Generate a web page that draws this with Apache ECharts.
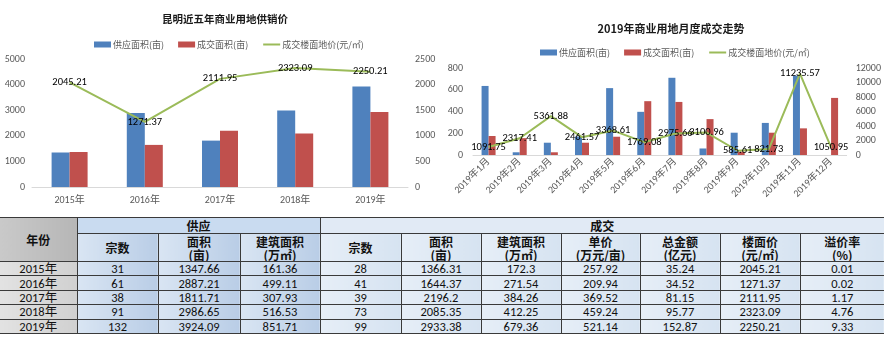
<!DOCTYPE html>
<html>
<head>
<meta charset="utf-8">
<script src="https://cdn.jsdelivr.net/npm/echarts@6/dist/echarts.min.js"></script>
<style>
  html, body { margin: 0; padding: 0; background: #fff; }
  #wrap { position: relative; width: 884px; height: 339px; overflow: hidden; }
  #chart { position: absolute; left: 0; top: 0; width: 884px; height: 216px; }
  #tbl {
    position: absolute; left: 0; top: 217px; width: 884px;
    border-collapse: collapse; table-layout: fixed;
    font-family: Carlito, "Liberation Sans", "Noto Sans CJK SC", sans-serif;
    color: #111; text-align: center;
  }
  #tbl td { padding: 0; border: 1px solid #3a3a3a; overflow: hidden; white-space: nowrap; }
  #tbl tr.h1 td { height: 15px; font-size: 12px; line-height: 15px; font-weight: bold; font-family: "Noto Sans CJK SC", sans-serif; }
  #tbl tr.h2 td { height: 27px; font-size: 12px; line-height: 13px; font-weight: bold; font-family: "Noto Sans CJK SC", sans-serif; }
  #tbl tr.d td { height: 13.4px; font-size: 12.5px; line-height: 13px; }
  #tbl td.yr { background: linear-gradient(to right, #e2e2e2, #d0d0d0); }
  #tbl td.yh { background: linear-gradient(to right, #c9c9c9, #b6b6b6); font-size: 13px; }
  #tbl td.sp { background: linear-gradient(to right, #d9e5f3, #b9cde6); }
  #tbl td.dl { background: linear-gradient(to right, #e6eef7, #d6e3f1); }
  #tbl td.sph { background: #c9dbf0; }
  #tbl td.dlh { background: #e1eaf5; }
  #tbl td:first-child { border-left: none; }
  #tbl td:last-child { border-right: none; }
</style>
</head>
<body>
<div id="wrap">
  <div id="chart"></div>
  <table id="tbl"></table>
</div>
<script>
// Five-year commercial land supply / transaction figures (Kunming)
const years = ['2015年', '2016年', '2017年', '2018年', '2019年'];
const supplyCount = [31, 61, 38, 91, 132];
const supplyArea = [1347.66, 2887.21, 1811.71, 2986.65, 3924.09];
const supplyBuild = [161.36, 499.11, 307.93, 516.53, 851.71];
const dealCount = [28, 41, 39, 73, 99];
const dealArea = [1366.31, 1644.37, 2196.2, 2085.35, 2933.38];
const dealBuild = [172.3, 271.54, 384.26, 412.25, 679.36];
const unitPrice = [257.92, 209.94, 369.52, 459.24, 521.14];
const totalAmount = [35.24, 34.52, 81.15, 95.77, 152.87];
const floorPrice = [2045.21, 1271.37, 2111.95, 2323.09, 2250.21];
const premiumRate = [0.01, 0.02, 1.17, 4.76, 9.33];

// 2019 monthly figures
const months = ['2019年1月', '2019年2月', '2019年3月', '2019年4月', '2019年5月', '2019年6月',
                '2019年7月', '2019年8月', '2019年9月', '2019年10月', '2019年11月', '2019年12月'];
const monthSupply = [635, 25, 113, 170, 615, 397, 710, 60, 205, 295, 730, 0];
const monthDeal = [175, 155, 25, 113, 168, 495, 488, 330, 30, 205, 245, 525];
const monthPrice = [1091.75, 2317.41, 5361.88, 2461.57, 3368.61, 1769.08,
                    2975.66, 3100.96, 585.61, 821.73, 11235.57, 1050.95];

// Axis ranges
const leftAxis = { min: 0, max: 5000, interval: 1000 };
const leftAxisR = { min: 0, max: 2500, interval: 500 };
const monthAxis = { min: 0, max: 800, interval: 200 };
const monthAxisR = { min: 0, max: 12000, interval: 2000 };

const NAME_SUPPLY = '供应面积(亩)';
const NAME_DEAL = '成交面积(亩)';
const NAME_PRICE = '成交楼面地价(元/㎡)';

const BLUE = '#4f81bd', RED = '#c0504d', GREEN = '#9bbb59';
const AXIS_TXT = { color: '#595959', fontSize: 10, fontFamily: 'Carlito, "Liberation Sans", "Noto Sans CJK SC", sans-serif' };
const LABEL_FONT = 'Carlito, "Liberation Sans", sans-serif';

function valueAxis(grid, range, pos, margin) {
  return {
    type: 'value', gridIndex: grid, position: pos,
    min: range.min, max: range.max, interval: range.interval,
    axisLine: { show: false }, axisTick: { show: false }, splitLine: { show: false },
    axisLabel: Object.assign({ margin: margin, formatter: v => String(v) }, AXIS_TXT)
  };
}

const legendBase = {
  itemWidth: 17, itemHeight: 6, itemGap: 14,
  textStyle: { color: '#595959', fontSize: 9, fontFamily: '"Noto Sans CJK SC", sans-serif', padding: [0, 0, 0, -3] },
  data: [
    { name: NAME_SUPPLY, icon: 'rect' },
    { name: NAME_DEAL, icon: 'rect' },
    { name: NAME_PRICE, itemStyle: { opacity: 0 } }
  ]
};

const chart = echarts.init(document.getElementById('chart'), null, { renderer: 'canvas' });
chart.setOption({
  animation: false,
  backgroundColor: 'transparent',
  title: [
    { text: '昆明近五年商业用地供销价', left: 220, top: 9, textAlign: 'center',
      textStyle: { fontSize: 10.5, fontWeight: 'bold', color: '#1a1a1a', fontFamily: '"Noto Sans CJK SC", sans-serif' } },
    { text: '2019年商业用地月度成交走势', left: 666, top: 18, textAlign: 'center',
      textStyle: { fontSize: 11, fontWeight: 'bold', color: '#1a1a1a', fontFamily: '"Noto Sans CJK SC", sans-serif' } }
  ],
  legend: [
    Object.assign({ left: 89, top: 35 }, legendBase),
    Object.assign({ left: 535, top: 43 }, legendBase)
  ],
  grid: [
    { left: 32, top: 59, width: 376, height: 128 },
    { left: 473, top: 68, width: 376, height: 87 }
  ],
  xAxis: [
    { type: 'category', gridIndex: 0, data: years,
      axisLine: { lineStyle: { color: '#d9d9d9' } }, axisTick: { show: false },
      axisLabel: Object.assign({ margin: 8 }, AXIS_TXT) },
    { type: 'category', gridIndex: 1, data: months,
      axisLine: { lineStyle: { color: '#d9d9d9' } }, axisTick: { show: false },
      axisLabel: Object.assign({ margin: 5, rotate: 45, interval: 0 }, AXIS_TXT) }
  ],
  yAxis: [
    valueAxis(0, leftAxis, 'left', 7),
    valueAxis(0, leftAxisR, 'right', 7),
    valueAxis(1, monthAxis, 'left', 10),
    valueAxis(1, monthAxisR, 'right', 9)
  ],
  series: [
    { name: NAME_SUPPLY, type: 'bar', xAxisIndex: 0, yAxisIndex: 0, data: supplyArea,
      barWidth: 18, barGap: '0%', itemStyle: { color: BLUE } },
    { name: NAME_DEAL, type: 'bar', xAxisIndex: 0, yAxisIndex: 0, data: dealArea,
      barWidth: 18, barGap: '0%', itemStyle: { color: RED } },
    { name: NAME_PRICE, type: 'line', xAxisIndex: 0, yAxisIndex: 1, data: floorPrice,
      symbol: 'circle', symbolSize: 0.1, lineStyle: { color: GREEN, width: 2 }, itemStyle: { color: GREEN },
      label: { show: true, position: 'inside', color: '#000', fontSize: 10.5, fontFamily: LABEL_FONT } },
    { name: NAME_SUPPLY, type: 'bar', xAxisIndex: 1, yAxisIndex: 2, data: monthSupply,
      barWidth: 7, barGap: '0%', itemStyle: { color: BLUE } },
    { name: NAME_DEAL, type: 'bar', xAxisIndex: 1, yAxisIndex: 2, data: monthDeal,
      barWidth: 7, barGap: '0%', itemStyle: { color: RED } },
    { name: NAME_PRICE, type: 'line', xAxisIndex: 1, yAxisIndex: 3, data: monthPrice,
      symbol: 'circle', symbolSize: 0.1, lineStyle: { color: GREEN, width: 2 }, itemStyle: { color: GREEN },
      label: { show: true, position: 'inside', color: '#000', fontSize: 10.5, fontFamily: LABEL_FONT } }
  ]
});

// Summary table below the charts
const colWidths = [77, 81, 82, 80, 81, 80, 80, 79, 80, 80, 84];
const tbl = document.getElementById('tbl');
let html = '<colgroup>' + colWidths.map(w => '<col style="width:' + w + 'px">').join('') + '</colgroup>';
html += '<tr class="h1"><td class="yh" rowspan="2">年份</td>' +
        '<td class="sph" colspan="3">供应</td><td class="dlh" colspan="7">成交</td></tr>';
const subHeads = [
  ['宗数', 'sp'], ['面积<br>(亩)', 'sp'], ['建筑面积<br>(万㎡)', 'sp'],
  ['宗数', 'dl'], ['面积<br>(亩)', 'dl'], ['建筑面积<br>(万㎡)', 'dl'], ['单价<br>(万元/亩)', 'dl'],
  ['总金额<br>(亿元)', 'dl'], ['楼面价<br>(元/㎡)', 'dl'], ['溢价率<br>(%)', 'dl']
];
html += '<tr class="h2">' + subHeads.map(h => '<td class="' + h[1] + '">' + h[0] + '</td>').join('') + '</tr>';
const cols = [
  [supplyCount, 'sp'], [supplyArea, 'sp'], [supplyBuild, 'sp'],
  [dealCount, 'dl'], [dealArea, 'dl'], [dealBuild, 'dl'], [unitPrice, 'dl'],
  [totalAmount, 'dl'], [floorPrice, 'dl'], [premiumRate, 'dl']
];
years.forEach((y, i) => {
  html += '<tr class="d"><td class="yr">' + y + '</td>' +
    cols.map(c => '<td class="' + c[1] + '">' + c[0][i] + '</td>').join('') + '</tr>';
});
tbl.innerHTML = html;
</script>
</body>
</html>
